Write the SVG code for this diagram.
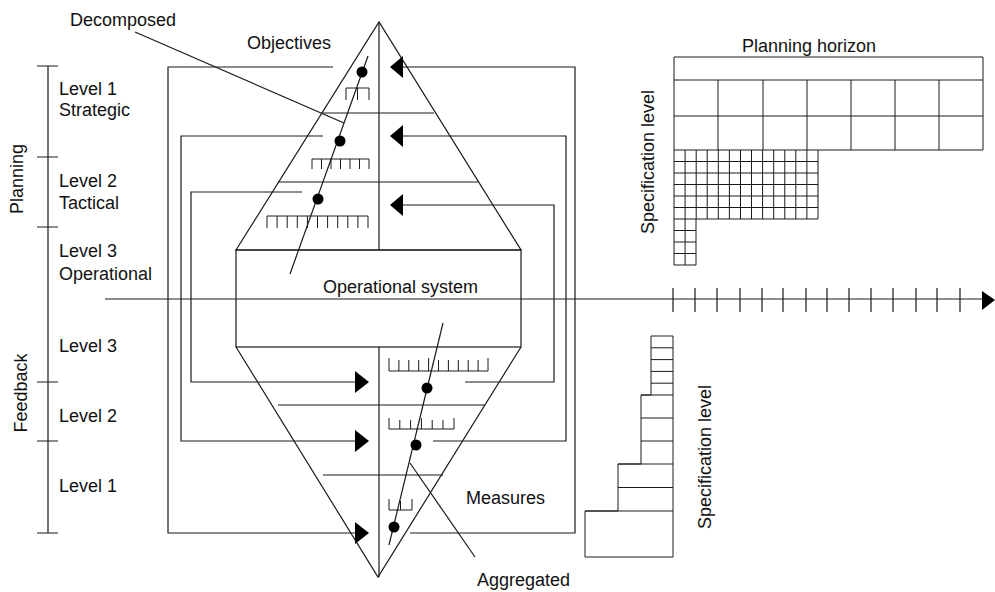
<svg xmlns="http://www.w3.org/2000/svg" xmlns:xlink="http://www.w3.org/1999/xlink" width="995" height="592" viewBox="0 0 995 592">
  <style>
    .ln { fill: none; stroke: #1a1a1a; stroke-width: 1.2; }
    .thin { fill: none; stroke: #1a1a1a; stroke-width: 1; }
    .dot { fill: #000; }
    .head { fill: #000; }
    .lbl { font-family: "Liberation Sans", Arial, sans-serif; font-size: 18px; fill: #111; }
  </style>
  <defs>
    <polygon id="arrowLeft" class="head" points="0,0 13,-11 13,11"/>
    <polygon id="arrowRight" class="head" points="0,0 -14,-11 -14,11"/>
  </defs>
  <rect width="995" height="592" fill="#fff"/>

  <!-- vertical scale on the left: planning / feedback levels -->
  <g id="level-axis">
    <path class="ln" d="M48,66 V533 M37,66 H58 M37,157 H58 M37,227 H58 M37,382 H58 M37,441 H58 M37,533 H58"/>
    <text class="lbl" transform="translate(23,179) rotate(-90)" text-anchor="middle">Planning</text>
    <text class="lbl" transform="translate(27,393) rotate(-90)" text-anchor="middle">Feedback</text>
    <text class="lbl" x="59" y="95">Level 1</text>
    <text class="lbl" x="59" y="116">Strategic</text>
    <text class="lbl" x="59" y="187">Level 2</text>
    <text class="lbl" x="59" y="209">Tactical</text>
    <text class="lbl" x="59" y="257">Level 3</text>
    <text class="lbl" x="59" y="280">Operational</text>
    <text class="lbl" x="59" y="352">Level 3</text>
    <text class="lbl" x="59" y="422">Level 2</text>
    <text class="lbl" x="59" y="492">Level 1</text>
  </g>

  <!-- time axis (planning horizon) -->
  <g id="time-axis">
    <path class="ln" d="M105,299 H984"/>
    <path class="ln" d="M673,288 V312 M695,288 V312 M717,288 V312 M740,288 V312 M762,288 V312 M783,288 V312 M806,288 V312 M827,288 V312 M849,288 V312 M871,288 V312 M893,288 V312 M916,288 V312 M937,288 V312 M960,288 V312"/>
    <polygon class="head" points="995,300 982,291 982,310"/>
  </g>

  <!-- planning pyramid (top) -->
  <g id="planning-pyramid">
    <path class="ln" d="M236,250 L379,22 L521,250 Z"/>
    <path class="ln" d="M379,22 V250"/>
    <path class="ln" d="M323,113 H434 M278,182 H478"/>
    <path class="thin" d="M346,100 V88 H369 V100 M357.5,88 V100"/>
    <path class="thin" d="M312,169 V159 H369 V169 M321.5,159 V169 M331,159 V169 M340.5,159 V169 M350,159 V169 M359.5,159 V169"/>
    <path class="thin" d="M267,228 V216 H368 V228 M277.1,216 V228 M287.2,216 V228 M297.3,216 V228 M307.4,216 V228 M317.5,216 V228 M327.6,216 V228 M337.7,216 V228 M347.8,216 V228 M357.9,216 V228"/>
    <path class="ln" d="M368,56 L290,274"/>
    <circle class="dot" cx="362" cy="72" r="5.5"/>
    <circle class="dot" cx="340" cy="141" r="5.5"/>
    <circle class="dot" cx="318" cy="199" r="5.5"/>
    <text class="lbl" x="247" y="49">Objectives</text>
  </g>

  <!-- operational system block -->
  <g id="operational-system">
    <rect class="ln" x="236" y="250" width="285" height="97"/>
    <text class="lbl" x="323" y="293">Operational system</text>
  </g>

  <!-- feedback pyramid (bottom) -->
  <g id="feedback-pyramid">
    <path class="ln" d="M236,347 L378,577 L521,347"/>
    <path class="ln" d="M379,347 V577"/>
    <path class="ln" d="M278,405 H485 M323,475 H443"/>
    <path class="thin" d="M389,358 V371 H488 V358 M398.9,360 V371 M408.8,360 V371 M418.7,360 V371 M428.6,358 V371 M438.5,360 V371 M448.4,360 V371 M458.3,360 V371 M468.2,360 V371 M478.1,360 V371"/>
    <path class="thin" d="M389,418 V429 H454 V418 M399.8,420 V429 M410.6,420 V429 M421.4,418 V429 M432.2,420 V429 M443,420 V429"/>
    <path class="thin" d="M389,499 V510 H412 V499 M400.5,501 V510"/>
    <path class="ln" d="M443,323 L389,545"/>
    <circle class="dot" cx="427" cy="388" r="5.5"/>
    <circle class="dot" cx="416" cy="445" r="5.5"/>
    <circle class="dot" cx="394" cy="527" r="5.5"/>
    <text class="lbl" x="466" y="504">Measures</text>
  </g>

  <!-- callout labels -->
  <g id="callouts">
    <text class="lbl" x="70" y="26">Decomposed</text>
    <path class="ln" d="M135,32 L344,123"/>
    <text class="lbl" x="477" y="586">Aggregated</text>
    <path class="ln" d="M410,463 L475,557"/>
  </g>

  <!-- control loops between levels -->
  <g id="connectors">
    <path class="ln" d="M333,67 H168 V533 H355"/>
    <path class="ln" d="M410,533 H575 V67 H402"/>
    <path class="ln" d="M323,136 H181 V441 H355"/>
    <path class="ln" d="M433,441 H566 V136 H402"/>
    <path class="ln" d="M302,192 H191 V382 H355"/>
    <path class="ln" d="M465,382 H554 V205 H402"/>
    <use xlink:href="#arrowLeft" x="390" y="67"/>
    <use xlink:href="#arrowLeft" x="390" y="136"/>
    <use xlink:href="#arrowLeft" x="390" y="205"/>
    <use xlink:href="#arrowRight" x="369" y="382"/>
    <use xlink:href="#arrowRight" x="369" y="441"/>
    <use xlink:href="#arrowRight" x="369" y="533"/>
  </g>

  <!-- planning grid: horizon vs specification level -->
  <g id="planning-grid">
    <text class="lbl" x="742" y="52">Planning horizon</text>
    <text class="lbl" transform="translate(654,162) rotate(-90)" text-anchor="middle">Specification level</text>
    <path class="thin" d="M674,57 H983 V150 H674 Z M674,80 H983 M674,116 H983"/>
    <path class="thin" d="M718,80 V150 M763,80 V150 M807,80 V150 M851,80 V150 M895,80 V150 M939,80 V150"/>
    <path class="thin" d="M674,150 V265 H696 V219 H818 V150"/>
    <path class="thin" d="M685.1,150 V265 M696.2,150 V219 M707.2,150 V219 M718.3,150 V219 M729.4,150 V219 M740.5,150 V219 M751.5,150 V219 M762.6,150 V219 M773.7,150 V219 M784.8,150 V219 M795.8,150 V219 M806.9,150 V219"/>
    <path class="thin" d="M674,161.5 H818 M674,173 H818 M674,184.5 H818 M674,196 H818 M674,207.5 H818 M674,219 H696 M674,230.5 H696 M674,242 H696 M674,253.5 H696"/>
  </g>

  <!-- feedback stair chart -->
  <g id="feedback-stairs">
    <text class="lbl" transform="translate(711,457) rotate(-90)" text-anchor="middle">Specification level</text>
    <path class="thin" d="M673,336 V557 H585 V511 H618 V464 H641 V395 H651 V336 Z"/>
    <path class="thin" d="M651,347.8 H673 M651,359.6 H673 M651,371.4 H673 M651,383.2 H673 M641,395 H673 M641,418 H673 M641,441 H673 M618,464 H673 M618,487.5 H673 M585,511 H673"/>
  </g>
</svg>
